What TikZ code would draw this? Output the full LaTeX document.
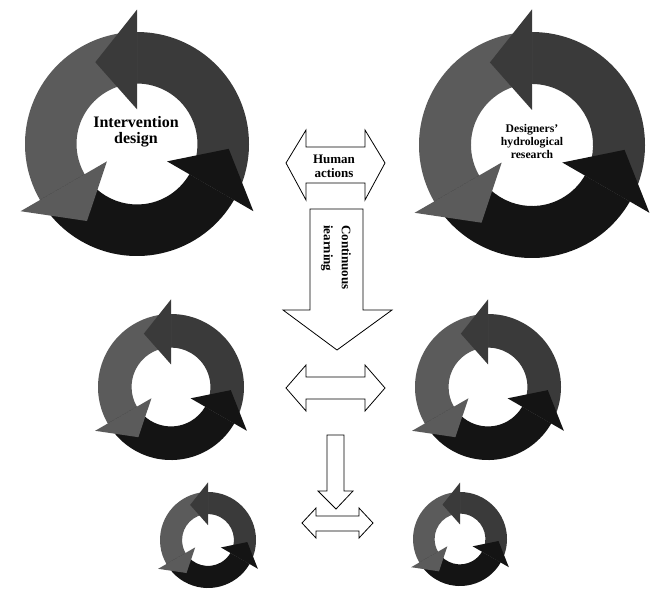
\documentclass[tikz,border=0pt]{standalone}
\usepackage{fontspec}
\setmainfont{Liberation Serif}
\definecolor{cdark}{HTML}{3A3A3A}
\definecolor{cmid}{HTML}{5B5B5B}
\definecolor{cblack}{HTML}{141414}
\newcommand\ringcyc[3]{%
  \begin{scope}[shift={(#1,#2)},scale=#3]
    \fill[cdark] (-30:0.54) arc[start angle=-30,end angle=90,radius=0.54] -- (90:1) arc[start angle=90,end angle=-30,radius=1] -- cycle;
    \fill[cmid] (90:0.54) arc[start angle=90,end angle=210,radius=0.54] -- (210:1) arc[start angle=210,end angle=90,radius=1] -- cycle;
    \fill[cblack] (210:0.54) arc[start angle=210,end angle=330,radius=0.54] -- (330:1) arc[start angle=330,end angle=210,radius=1] -- cycle;
    \fill[cdark] (90:0.31) -- (90:1.2) -- (117:0.82) -- cycle;
    \fill[cmid] (210:0.31) -- (210:1.2) -- (237:0.82) -- cycle;
    \fill[cblack] (330:0.31) -- (330:1.2) -- (357:0.82) -- cycle;
  \end{scope}}
\tikzset{
  outarrow/.style={draw=black, line width=0.8pt, fill=white, line join=miter},
  lbl/.style={font=\bfseries, align=center, inner sep=0pt}
}
\begin{document}
\begin{tikzpicture}[x=1pt,y=1pt]
\useasboundingbox (0,0) rectangle (655,-589);
% cycles
\ringcyc{137}{-144}{112}
\ringcyc{532}{-145}{113}
\ringcyc{171}{-387}{73}
\ringcyc{488}{-387}{73}
\ringcyc{208}{-540}{48}
\ringcyc{460}{-539}{47}
% labels in cycles
\node[lbl, font=\fontsize{16}{16}\selectfont\bfseries] (intervention) at (136,-132) {Intervention\\design};
\node[lbl, font=\fontsize{11.7}{13}\selectfont\bfseries] (designers) at (532,-141) {Designers'\\hydrological\\research};
% human actions double arrow
\draw[outarrow] (286,-163) -- (306,-130) -- (306,-147) -- (365,-147) -- (365,-130) -- (385,-163) -- (365,-200) -- (365,-183) -- (306,-183) -- (306,-200) -- cycle;
\node[lbl, font=\fontsize{13}{14}\selectfont\bfseries] (human) at (334,-166) {Human\\actions};
% continuous learning arrow
\draw[outarrow] (310,-209) -- (363,-209) -- (363,-310) -- (392,-310) -- (337,-350) -- (283,-310) -- (310,-310) -- cycle;
\node[lbl, align=left, rotate=-90, anchor=north west, font=\fontsize{13}{18}\selectfont\bfseries] (learning) at (351,-225) {Continuous\\iearning};
% middle double arrow
\draw[outarrow] (286,-388) -- (306,-365) -- (306,-377) -- (365,-377) -- (365,-365) -- (385,-388) -- (365,-411) -- (365,-399) -- (306,-399) -- (306,-411) -- cycle;
% small down arrow
\draw[outarrow] (327,-435) -- (344,-435) -- (344,-491) -- (353,-491) -- (336,-509) -- (318,-491) -- (327,-491) -- cycle;
% small double arrow
\draw[outarrow] (302,-523) -- (316,-508) -- (316,-516) -- (359,-516) -- (359,-508) -- (373,-523) -- (359,-538) -- (359,-531) -- (316,-531) -- (316,-538) -- cycle;
\end{tikzpicture}
\end{document}
